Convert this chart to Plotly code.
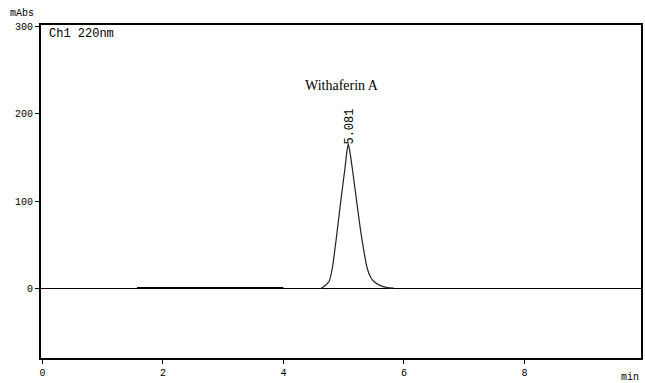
import plotly.graph_objects as go

# Chromatogram trace (time in min, absorbance in mAbs)
base_time = [1.57, 2.5, 3.3, 4.0]
base_abs = [1.0, 1.0, 1.0, 1.0]

peak_time = [4.62, 4.675, 4.758, 4.812, 4.885, 4.951, 5.022, 5.055, 5.077, 5.10,
             5.143, 5.216, 5.292, 5.391, 5.45, 5.502, 5.60, 5.722, 5.83]
peak_abs = [0.3, 2.7, 8.4, 23.6, 61.7, 99.8, 138.0, 158.0, 165.4, 158.0,
            138.0, 99.8, 61.7, 23.6, 13.0, 8.4, 4.0, 1.5, 1.0]

x_ticks = [0, 2, 4, 6, 8]
y_ticks = [0, 100, 200, 300]

peak_name = "Withaferin A"
peak_rt = "5.081"
channel = "Ch1 220nm"

mono = "Liberation Mono"

fig = go.Figure()
fig.add_trace(go.Scatter(x=base_time, y=base_abs, mode="lines",
                         line=dict(color="black", width=2), hoverinfo="skip"))
fig.add_trace(go.Scatter(x=peak_time, y=peak_abs, mode="lines",
                         line=dict(color="#222222", width=1.2, shape="spline", smoothing=0.6),
                         hoverinfo="skip"))

fig.update_layout(
    width=645, height=383,
    margin=dict(l=41, r=2, t=25, b=25),
    paper_bgcolor="white", plot_bgcolor="white",
    showlegend=False,
    xaxis=dict(range=[-0.023, 9.935], tickvals=x_ticks, ticktext=[str(v) for v in x_ticks],
               showgrid=False, zeroline=False, showline=True, linecolor="black", linewidth=2,
               mirror=True, ticks="outside", ticklen=4, tickcolor="black", tickwidth=1,
               tickfont=dict(family=mono, size=10, color="black")),
    yaxis=dict(range=[-79, 301.7], tickvals=y_ticks, ticktext=[str(v) for v in y_ticks],
               showgrid=False, zeroline=True, zerolinecolor="black", zerolinewidth=1,
               showline=True, linecolor="black", linewidth=2, mirror=True,
               ticks="outside", ticklen=4, tickcolor="black", tickwidth=1,
               tickfont=dict(family=mono, size=10, color="black")),
    annotations=[
        dict(text="mAbs", xref="paper", yref="paper", x=-0.055, y=1.0, yshift=4,
             xanchor="left", yanchor="bottom", showarrow=False,
             font=dict(family=mono, size=10, color="black")),
        dict(text="min", xref="paper", yref="paper", x=1.0, y=0, yshift=-27,
             xanchor="right", yanchor="bottom", showarrow=False,
             font=dict(family=mono, size=10, color="black")),
        dict(text=channel, xref="paper", yref="paper", x=0.01, y=1.0,
             xanchor="left", yanchor="top", showarrow=False,
             font=dict(family=mono, size=12, color="black")),
        dict(text=peak_name, x=4.97, y=232, xref="x", yref="y", showarrow=False,
             font=dict(family="Liberation Serif", size=14, color="black")),
        dict(text=peak_rt, x=5.105, y=165, xref="x", yref="y", showarrow=False,
             textangle=-90, xanchor="center", yanchor="bottom", yshift=-2,
             font=dict(family=mono, size=12, color="black")),
    ],
)

fig.write_html("out.html")
